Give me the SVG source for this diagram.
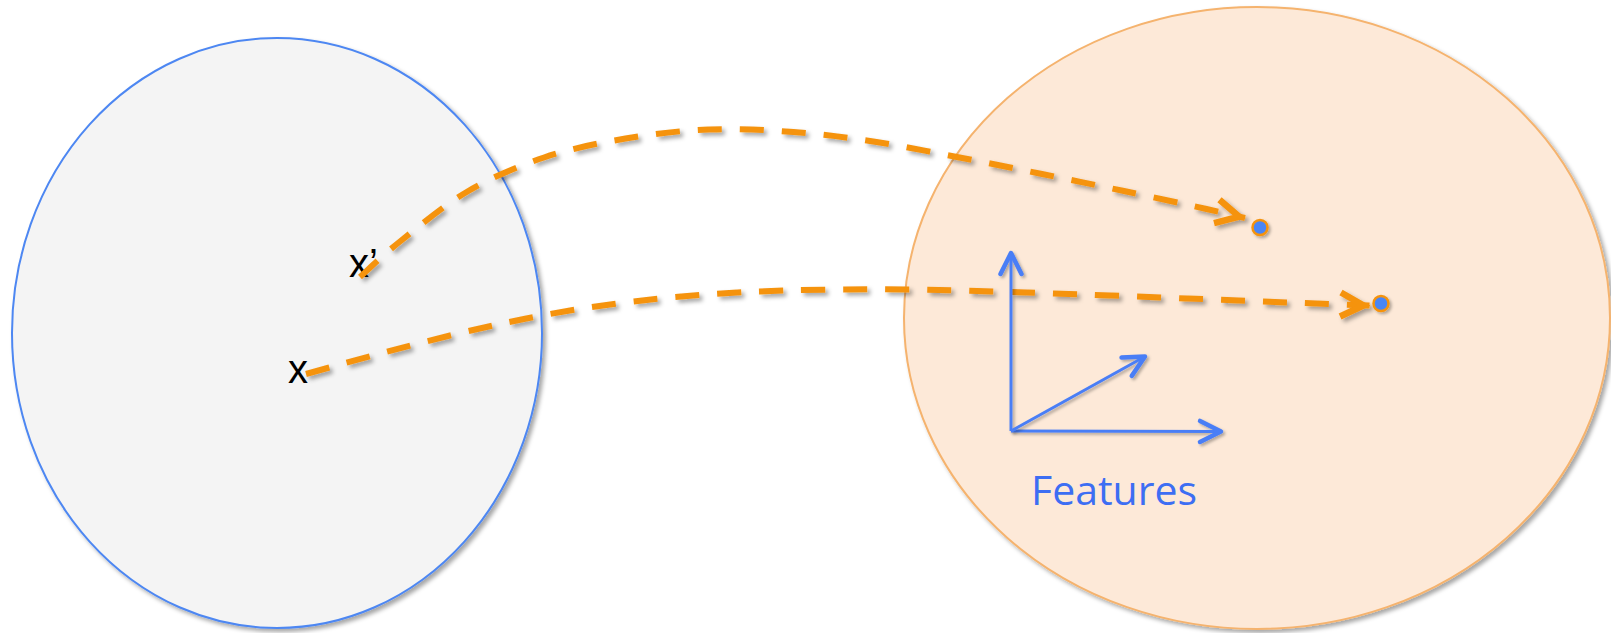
<svg xmlns="http://www.w3.org/2000/svg" width="1611" height="633" viewBox="0 0 1611 633">
  <style>
    .lbl { font-family: "Liberation Sans", Arial, sans-serif; font-size: 40px; fill: #000; }
    .feat { font-family: "Open Sans", "Liberation Sans", sans-serif; font-size: 41px; fill: #3d6ef3; }
    .dash { fill: none; stroke: #f5930f; stroke-width: 6; stroke-dasharray: 24 18; filter: url(#sh); }
    .axis { fill: none; stroke: #4a7ef6; stroke-width: 3; filter: url(#sh2); }
    .dot { fill: #4a86f6; stroke: #f5930f; stroke-width: 2.5; filter: url(#sh2); }
  </style>
  <defs>
    <filter id="sh" filterUnits="userSpaceOnUse" x="0" y="0" width="1611" height="633">
      <feDropShadow dx="3" dy="3" stdDeviation="2" flood-color="#000" flood-opacity="0.35"/>
    </filter>
    <filter id="sh2" filterUnits="userSpaceOnUse" x="0" y="0" width="1611" height="633">
      <feDropShadow dx="2" dy="2" stdDeviation="1.5" flood-color="#000" flood-opacity="0.3"/>
    </filter>
    <marker id="oa" markerUnits="userSpaceOnUse" markerWidth="60" markerHeight="60" viewBox="-40 -30 60 60" refX="0" refY="0" orient="auto" overflow="visible">
      <path d="M-29,-12 L-6,0 L-29,12" fill="none" stroke="#f5930f" stroke-width="6.5" stroke-linejoin="miter"/>
    </marker>
    <marker id="ba" markerUnits="userSpaceOnUse" markerWidth="40" markerHeight="40" viewBox="-30 -20 40 40" refX="0" refY="0" orient="auto" overflow="visible">
      <path d="M-21,-10.5 L0,0 L-21,10.5" fill="none" stroke="#4a7ef6" stroke-width="4.5" stroke-linecap="round" stroke-linejoin="round"/>
    </marker>
  </defs>

  <rect width="1611" height="633" fill="#ffffff"/>

  <g id="input-space">
    <ellipse cx="277" cy="333" rx="265" ry="295" fill="#f4f4f4" stroke="#4d87f2" stroke-width="2" filter="url(#sh)"/>
    <text class="lbl" x="288" y="383">x</text>
    <text class="lbl" x="349" y="277">x’</text>
  </g>

  <g id="feature-space">
    <ellipse cx="1257" cy="318" rx="353" ry="311" fill="#fde9d8" stroke="#f5b36e" stroke-width="2" filter="url(#sh)"/>
  </g>

  <g id="connectors">
    <path class="dash" marker-end="url(#oa)" d="M360,277 C366.7,271.1 382.1,255.75 400,241.5 C417.9,227.25 443.5,205.5 467.5,191.5 C491.5,177.5 517.7,166.3 544,157.5 C570.3,148.7 598,143.2 625.5,138.5 C653,133.8 681,130.6 709,129.5 C737,128.4 765.6,129.9 793.5,132 C821.4,134.1 848.8,137.75 876.5,142 C904.2,146.25 931.9,152.2 959.5,157.5 C987.1,162.8 1014.6,168.4 1042,174 C1069.4,179.6 1096.6,185.2 1124,191 C1151.4,196.8 1186.3,204.5 1206.5,209 C1226.7,213.5 1238.6,216.5 1245,218"/>
    <path class="dash" marker-end="url(#oa)" d="M306,374 C506,318 620,289.3 870,289.3 C970,289.3 1069.5,294.05 1369.5,305.6"/>
  </g>

  <g id="point-1">
    <circle class="dot" cx="1260" cy="227.5" r="7.5"/>
  </g>
  <g id="point-2">
    <circle class="dot" cx="1381" cy="303.5" r="7.5"/>
  </g>

  <g id="features">
    <path class="axis" marker-end="url(#ba)" d="M1011,431 L1011,253"/>
    <path class="axis" marker-end="url(#ba)" d="M1011,431 L1221,431.5"/>
    <path class="axis" marker-end="url(#ba)" d="M1011,431 L1145,356.5"/>
    <text class="feat" x="1031" y="505">Features</text>
  </g>
</svg>
